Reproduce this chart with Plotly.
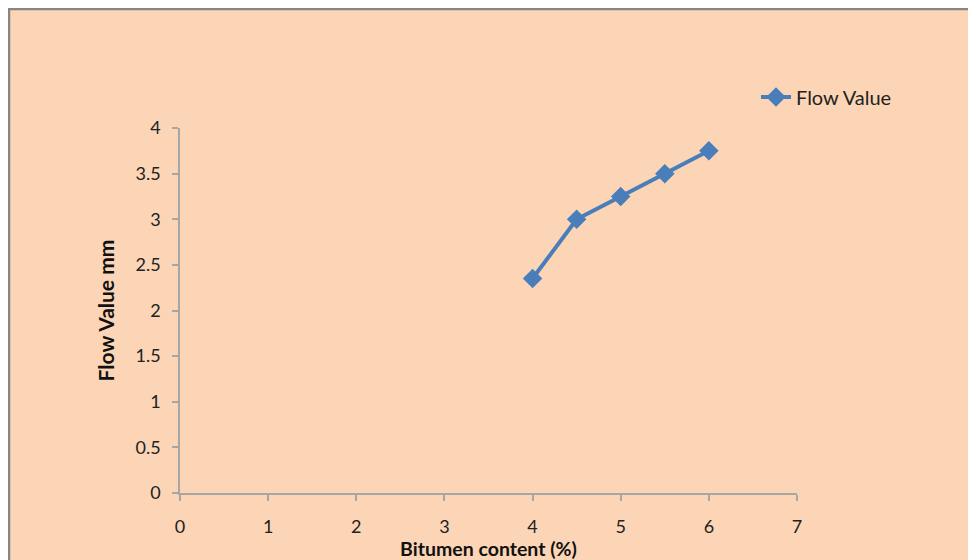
import plotly.graph_objects as go

bitumen = [4, 4.5, 5, 5.5, 6]
flow = [2.35, 3.0, 3.25, 3.5, 3.75]
x_ticks = [0, 1, 2, 3, 4, 5, 6, 7]
y_ticks = [0, 0.5, 1, 1.5, 2, 2.5, 3, 3.5, 4]
y_tick_text = ["0", "0.5", "1", "1.5", "2", "2.5", "3", "3.5", "4"]

OFF = 8  # page body margin
L, R, T, B = 180 - OFF, 797 - OFF, 128 - OFF, 493 - OFF
W, H = 976, 560
pw, ph = R - L, B - T

def px(x):
    return (x - OFF - L) / pw

def py(y):
    return (B - (y - OFF)) / ph

fig = go.Figure()
fig.add_trace(go.Scatter(
    x=bitumen, y=flow, mode="lines+markers", name="Flow Value",
    line=dict(color="#4A7EBB", width=4),
    marker=dict(symbol="diamond", size=15, color="#4A7EBB"),
))

fig.add_shape(type="rect", xref="paper", yref="paper",
              x0=px(9), y0=py(600), x1=px(1010), y1=py(9),
              line=dict(color="#868686", width=2.5), fillcolor="#FBD5B5", layer="below")

FONT = "Lato"
axis_common = dict(showgrid=False, zeroline=False, showline=True, linecolor="#A6A6A6", linewidth=1.5,
                   ticks="outside", ticklen=6, tickcolor="#A6A6A6", tickwidth=1.5,
                   tickfont=dict(family=FONT, size=18, color="#222222"))

fig.update_xaxes(range=[0, 7], tickvals=x_ticks, ticklabelstandoff=11,
                 title=dict(text="<b>Bitumen content (%)</b>", font=dict(family=FONT, size=19.5, color="#111111"), standoff=0),
                 **axis_common)
fig.update_yaxes(range=[0, 4], tickvals=y_ticks, ticktext=y_tick_text, ticklabelstandoff=8,
                 title=dict(text="<b>Flow Value mm</b>", font=dict(family=FONT, size=21, color="#111111"), standoff=15),
                 **axis_common)

fig.update_layout(
    width=W, height=H,
    margin=dict(l=L, r=W - R, t=T, b=H - B),
    paper_bgcolor="#FBD5B5", plot_bgcolor="rgba(0,0,0,0)",
    showlegend=True,
    legend=dict(x=px(756), y=py(97), xanchor="left", yanchor="middle", bgcolor="rgba(0,0,0,0)",
                font=dict(family=FONT, size=20, color="#222222"), itemwidth=30),
)

fig.write_html("out.html")
